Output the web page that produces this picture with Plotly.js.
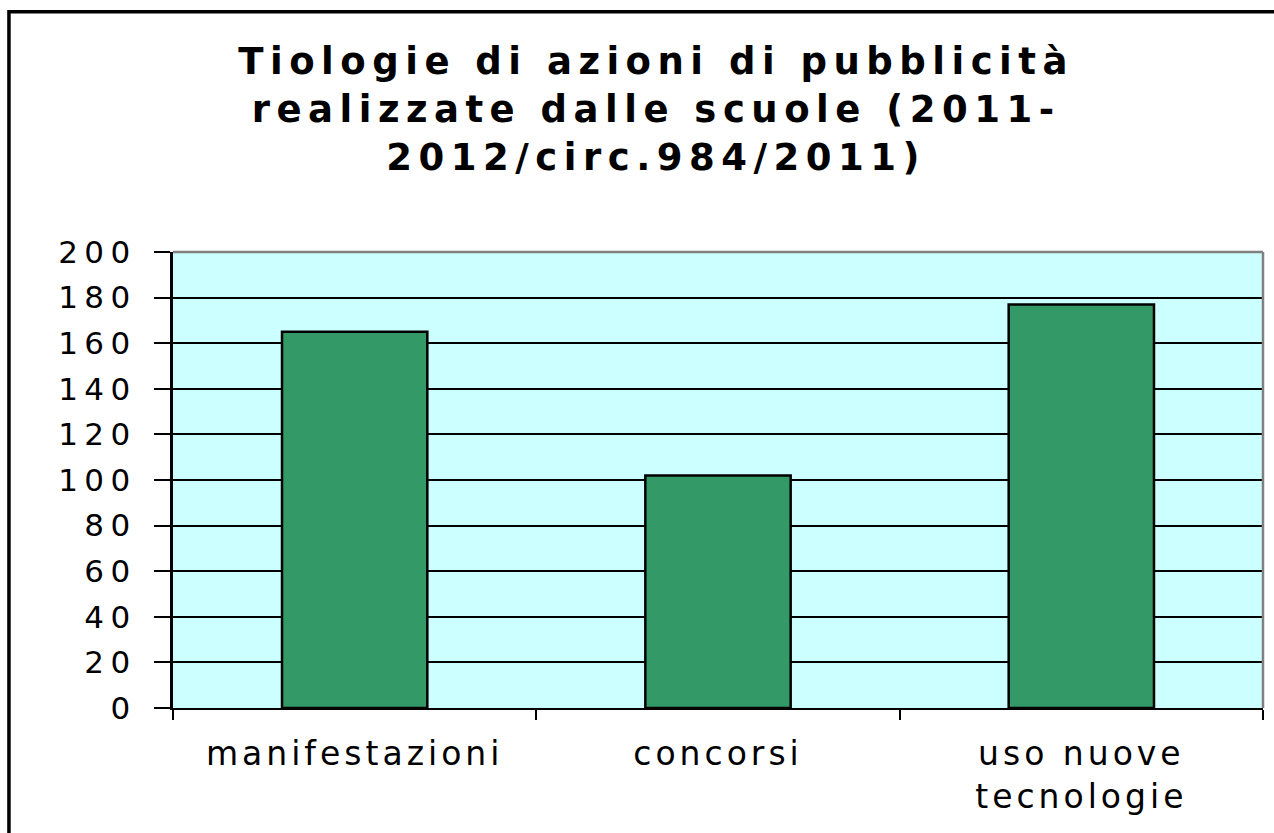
<!DOCTYPE html>
<html>
<head>
<meta charset="utf-8">
<script src="https://cdn.plot.ly/plotly-3.0.1.min.js"></script>
<style>
  html, body { margin: 0; padding: 0; background: #fff; }
  #chart { width: 1274px; height: 833px; }
  /* the original has wide, spaced lettering */
  #chart .gtitle { letter-spacing: 6.5px; }
  #chart .xtick text { letter-spacing: 4px; }
  #chart .ytick text { letter-spacing: 6.5px; }
</style>
</head>
<body>
<div id="chart"></div>
<script>
var categories = ['manifestazioni', 'concorsi', 'uso nuove<br>tecnologie'];
var counts = [165, 102, 177];
var yTicks = [0, 20, 40, 60, 80, 100, 120, 140, 160, 180, 200];

var trace = {
    x: categories,
    y: counts,
    type: 'bar',
    marker: {color: '#339966', line: {color: '#000000', width: 2.5}},
    hoverinfo: 'x+y'
};

var layout = {
    width: 1274,
    height: 833,
    margin: {l: 173, r: 11, t: 252, b: 125},
    paper_bgcolor: '#ffffff',
    plot_bgcolor: '#ccffff',
    font: {family: '"DejaVu Sans", Arial, sans-serif', color: '#000000'},
    title: {
        text: 'Tiologie di azioni di pubblicità<br>realizzate dalle scuole (2011-<br>2012/circ.984/2011)',
        font: {size: 37, weight: 'bold', color: '#000000'},
        xref: 'container', x: 0.515, xanchor: 'center',
        yref: 'container', y: 0.911, yanchor: 'top'
    },
    bargap: 0.6,
    showlegend: false,
    xaxis: {
        type: 'category',
        showline: true, linecolor: '#000000', linewidth: 2,
        ticks: 'outside', tickson: 'boundaries', ticklen: 10, tickwidth: 2, tickcolor: '#000000',
        tickfont: {size: 33},
        ticklabelstandoff: 15,
        showgrid: false
    },
    yaxis: {
        range: [0, 200],
        tickvals: yTicks,
        ticks: 'outside', ticklen: 16, tickwidth: 2, tickcolor: '#000000',
        tickfont: {size: 31},
        ticklabelstandoff: 11,
        showline: true, linecolor: '#000000', linewidth: 3,
        showgrid: true, gridcolor: '#000000', gridwidth: 2,
        zeroline: false
    },
    shapes: [
        // grey top and right edges of the plot area
        {type: 'line', xref: 'paper', yref: 'paper', x0: 0, x1: 1, y0: 1, y1: 1, line: {color: '#808080', width: 2.5}},
        {type: 'line', xref: 'paper', yref: 'paper', x0: 1, x1: 1, y0: 0, y1: 1, line: {color: '#808080', width: 2.5}},
        // outer frame of the chart, cut by the picture edge
        {type: 'rect', xref: 'paper', yref: 'paper', x0: -0.1505, x1: 1.2, y0: -0.5, y1: 1.527, line: {color: '#000000', width: 3.5}}
    ]
};

Plotly.newPlot('chart', [trace], layout, {displayModeBar: false, staticPlot: true});
</script>
</body>
</html>
